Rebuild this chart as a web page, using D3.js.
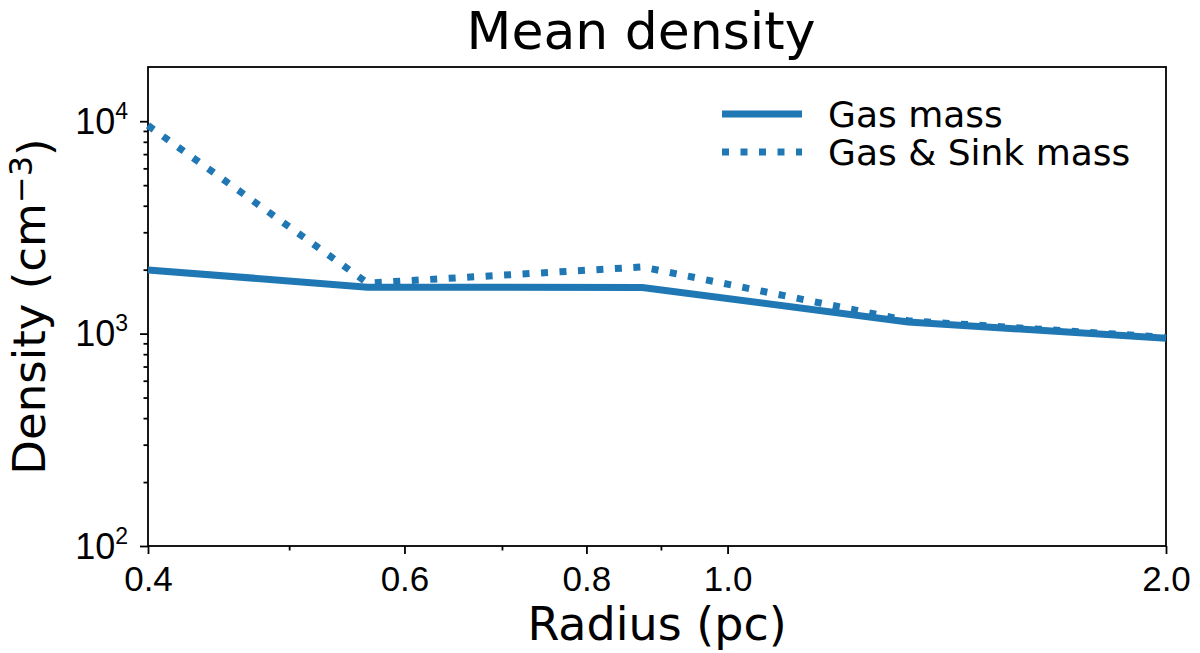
<!DOCTYPE html>
<html lang="en">
<head>
  <meta charset="UTF-8">
  <title>Mean density</title>
  <script src="https://d3js.org/d3.v7.min.js"></script>
  <style>
    body { margin: 0; background: #fff; }
    svg { font-family: "DejaVu Sans", sans-serif; }
    .axis path, .axis line { stroke: #000; stroke-width: 1.8; }
    .axis text { font-size: 35px; fill: #000; }
  </style>
</head>
<body>
  <div class="chart"></div>

  <script>
    // values
    const radius = [0.4, 0.566, 0.874, 1.33, 2.0];
    const gasMass = [1995, 1655, 1650, 1134, 950];
    const gasSinkMass = [9550, 1730, 2060, 1150, 960];
    const seriesNames = ["Gas mass", "Gas & Sink mass"];
    const xMajorTicks = [0.4, 0.6, 0.8, 1.0, 2.0];
    const xMinorTicks = [0.5, 0.7, 0.9];
    const yMajorTicks = [100, 1000, 10000];
    const yMinorTicks = [200, 300, 400, 500, 600, 700, 800, 900,
                         2000, 3000, 4000, 5000, 6000, 7000, 8000, 9000];

    const width = 1200, height = 653;
    const mLeft = 148, mRight = 1166, mTop = 67, mBottom = 546;
    const color = "#1f77b4";

    const svg = d3.select(".chart").append("svg")
      .attr("width", width)
      .attr("height", height);

    const x = d3.scaleLog().domain([0.4, 2.0]).range([mLeft, mRight]);
    const y = d3.scaleLog().domain([100, 18000]).range([mBottom, mTop]);

    // minor ticks first
    svg.append("g").attr("class", "axis")
      .attr("transform", `translate(0,${mBottom})`)
      .call(d3.axisBottom(x).tickValues(xMinorTicks).tickSize(4.5).tickFormat(""))
      .call(g => g.select(".domain").remove());
    svg.append("g").attr("class", "axis")
      .attr("transform", `translate(${mLeft},0)`)
      .call(d3.axisLeft(y).tickValues(yMinorTicks).tickSize(4.5).tickFormat(""))
      .call(g => g.select(".domain").remove());

    // major x
    svg.append("g").attr("class", "axis")
      .attr("transform", `translate(0,${mBottom})`)
      .call(d3.axisBottom(x).tickValues(xMajorTicks).tickSize(8).tickPadding(10)
        .tickFormat(d3.format(".1f")))
      .call(g => g.select(".domain").remove())
      .call(g => g.selectAll("text").attr("dy", "0.76em"));

    // major y with superscript exponents
    svg.append("g").attr("class", "axis")
      .attr("transform", `translate(${mLeft},0)`)
      .call(d3.axisLeft(y).tickValues(yMajorTicks).tickSize(8).tickPadding(12).tickFormat(""))
      .call(g => g.select(".domain").remove())
      .call(g => g.selectAll(".tick text").each(function (d) {
        const t = d3.select(this).attr("dy", "12px").style("font-size", "36px");
        t.append("tspan").text("10");
        t.append("tspan").attr("dy", "-15px").style("font-size", "23px")
          .text(Math.round(Math.log10(d)));
      }));

    // frame
    svg.append("rect")
      .attr("x", mLeft).attr("y", mTop)
      .attr("width", mRight - mLeft).attr("height", mBottom - mTop)
      .attr("fill", "none").attr("stroke", "#000").attr("stroke-width", 1.8);

    const line = d3.line().x(d => x(d[0])).y(d => y(d[1]));

    svg.append("path")
      .datum(radius.map((r, i) => [r, gasSinkMass[i]]))
      .attr("d", line)
      .attr("fill", "none").attr("stroke", color).attr("stroke-width", 7)
      .attr("stroke-dasharray", "7 11.5");

    svg.append("path")
      .datum(radius.map((r, i) => [r, gasMass[i]]))
      .attr("d", line)
      .attr("fill", "none").attr("stroke", color).attr("stroke-width", 7);

    // legend
    const legend = svg.append("g").attr("transform", "translate(722,114)");
    seriesNames.forEach((name, i) => {
      const row = legend.append("g").attr("transform", `translate(0,${i * 38})`);
      row.append("line")
        .attr("x1", 0).attr("x2", 80)
        .attr("stroke", color).attr("stroke-width", 7)
        .attr("stroke-dasharray", i ? "7 11.5" : null);
      row.append("text")
        .attr("x", 106).attr("y", 13)
        .attr("font-size", "36px")
        .text(name);
    });

    // title and axis labels
    svg.append("text")
      .attr("x", 641).attr("y", 49)
      .attr("text-anchor", "middle").attr("font-size", "52px")
      .text("Mean density");

    svg.append("text")
      .attr("x", (mLeft + mRight) / 2).attr("y", 640)
      .attr("text-anchor", "middle").attr("font-size", "46px")
      .text("Radius (pc)");

    const ylab = svg.append("text")
      .attr("transform", `translate(45,${(mTop + mBottom) / 2}) rotate(-90)`)
      .attr("text-anchor", "middle").attr("font-size", "45px");
    ylab.append("tspan").text("Density (cm");
    ylab.append("tspan").attr("dy", "-0.4em").attr("font-size", "32px").text("\u22123");
    ylab.append("tspan").attr("dy", "0.4em").text(")");
  </script>
</body>
</html>
